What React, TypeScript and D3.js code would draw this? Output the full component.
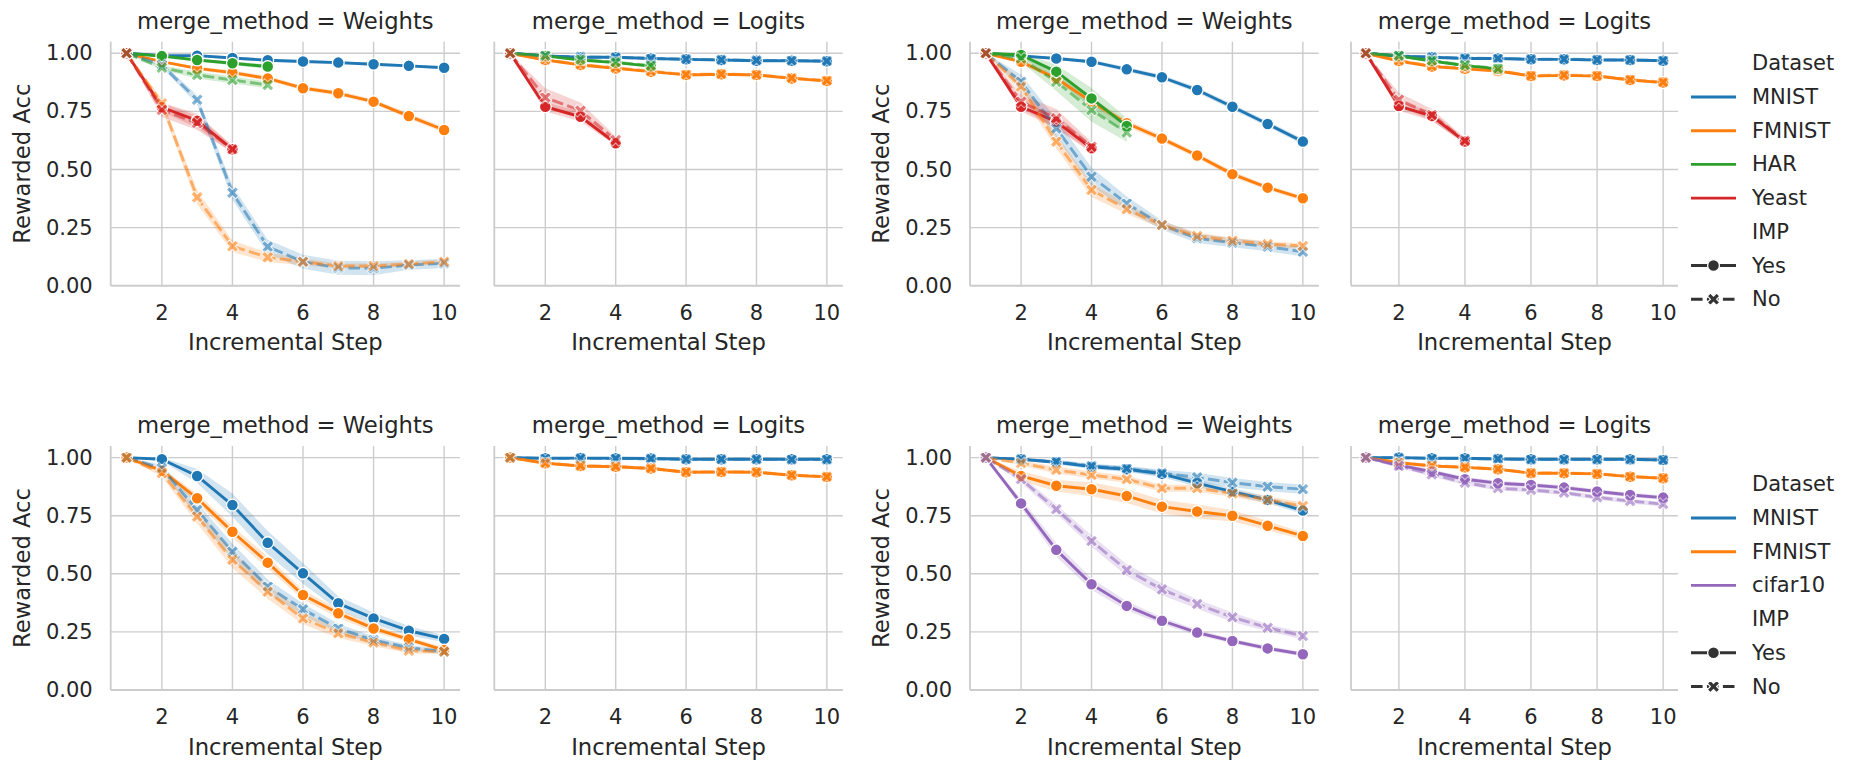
import React from 'react'
import * as d3 from 'd3'

const W = 1876
const H = 760
const FONT = 'DejaVu Sans, Verdana, sans-serif'
const TEXT = '#262626'
const GRID = '#cccccc'

const STEPS = [1, 2, 3, 4, 5, 6, 7, 8, 9, 10]
const X_TICKS = [2, 4, 6, 8, 10]
const Y_TICKS = [0, 0.25, 0.5, 0.75, 1.0]
const Y_TICK_LABELS = ['0.00', '0.25', '0.50', '0.75', '1.00']
const TOP_DATASETS = ['MNIST', 'FMNIST', 'HAR', 'Yeast']
const BOTTOM_DATASETS = ['MNIST', 'FMNIST', 'cifar10']
const IMP_LEVELS = ['Yes', 'No']

const COLORS = {
  MNIST: '#1f77b4',
  FMNIST: '#ff7f0e',
  HAR: '#2ca02c',
  Yeast: '#d62728',
  cifar10: '#9467bd',
}

// top row, left pair -- Weights
const A_W_MNIST_YES = [1.0, 0.99, 0.99, 0.98, 0.97, 0.965, 0.96, 0.953, 0.946, 0.938]
const A_W_MNIST_YES_CI = [0, 0.004, 0.005, 0.006, 0.006, 0.006, 0.006, 0.006, 0.006, 0.006]
const A_W_FMNIST_YES = [1.0, 0.964, 0.935, 0.917, 0.892, 0.85, 0.828, 0.792, 0.73, 0.67]
const A_W_FMNIST_YES_CI = [0, 0.005, 0.008, 0.01, 0.01, 0.01, 0.01, 0.01, 0.012, 0.012]
const A_W_HAR_YES = [1.0, 0.988, 0.971, 0.957, 0.943]
const A_W_HAR_YES_CI = [0, 0.005, 0.006, 0.008, 0.01]
const A_W_YEAST_YES = [1.0, 0.768, 0.71, 0.587]
const A_W_YEAST_YES_CI = [0, 0.02, 0.03, 0.015]
const A_W_MNIST_NO = [1.0, 0.95, 0.8, 0.4, 0.168, 0.103, 0.077, 0.075, 0.089, 0.096]
const A_W_MNIST_NO_CI = [0, 0.01, 0.02, 0.03, 0.03, 0.03, 0.03, 0.03, 0.02, 0.02]
const A_W_FMNIST_NO = [1.0, 0.785, 0.38, 0.17, 0.122, 0.103, 0.085, 0.085, 0.093, 0.103]
const A_W_FMNIST_NO_CI = [0, 0.02, 0.03, 0.025, 0.02, 0.015, 0.01, 0.01, 0.01, 0.01]
const A_W_HAR_NO = [1.0, 0.938, 0.907, 0.885, 0.864]
const A_W_HAR_NO_CI = [0, 0.01, 0.015, 0.015, 0.015]
const A_W_YEAST_NO = [1.0, 0.756, 0.7, 0.587]
const A_W_YEAST_NO_CI = [0, 0.03, 0.03, 0.015]

// top row, left pair -- Logits
const A_L_MNIST_YES = [1.0, 0.989, 0.983, 0.983, 0.978, 0.974, 0.971, 0.968, 0.968, 0.966]
const A_L_FMNIST_YES = [1.0, 0.971, 0.95, 0.935, 0.921, 0.907, 0.91, 0.907, 0.892, 0.881]
const A_L_HAR_YES = [1.0, 0.989, 0.971, 0.96, 0.945]
const A_L_YEAST_YES = [1.0, 0.77, 0.727, 0.613]
const A_L_YEAST_YES_CI = [0, 0.02, 0.02, 0.01]
const A_L_MNIST_NO = [1.0, 0.988, 0.985, 0.983, 0.978, 0.975, 0.972, 0.97, 0.969, 0.967]
const A_L_FMNIST_NO = [1.0, 0.973, 0.952, 0.938, 0.923, 0.909, 0.911, 0.908, 0.894, 0.883]
const A_L_HAR_NO = [1.0, 0.99, 0.973, 0.962, 0.947]
const A_L_YEAST_NO = [1.0, 0.81, 0.753, 0.627]
const A_L_YEAST_NO_CI = [0, 0.04, 0.035, 0.015]

// top row, right pair -- Weights
const B_W_MNIST_YES = [1.0, 0.989, 0.978, 0.964, 0.931, 0.897, 0.842, 0.77, 0.696, 0.62]
const B_W_MNIST_YES_CI = [0, 0.004, 0.006, 0.008, 0.01, 0.01, 0.012, 0.012, 0.012, 0.012]
const B_W_FMNIST_YES = [1.0, 0.964, 0.892, 0.792, 0.699, 0.633, 0.56, 0.48, 0.422, 0.376]
const B_W_FMNIST_YES_CI = [0, 0.008, 0.012, 0.015, 0.015, 0.012, 0.012, 0.012, 0.01, 0.01]
const B_W_HAR_YES = [1.0, 0.993, 0.921, 0.806, 0.687]
const B_W_HAR_YES_CI = [0, 0.01, 0.03, 0.045, 0.035]
const B_W_YEAST_YES = [1.0, 0.77, 0.706, 0.591]
const B_W_YEAST_YES_CI = [0, 0.02, 0.03, 0.02]
const B_W_MNIST_NO = [1.0, 0.878, 0.677, 0.469, 0.354, 0.261, 0.204, 0.185, 0.168, 0.146]
const B_W_MNIST_NO_CI = [0, 0.03, 0.04, 0.04, 0.03, 0.02, 0.02, 0.02, 0.02, 0.02]
const B_W_FMNIST_NO = [1.0, 0.857, 0.62, 0.412, 0.329, 0.261, 0.214, 0.194, 0.179, 0.171]
const B_W_FMNIST_NO_CI = [0, 0.03, 0.03, 0.03, 0.02, 0.015, 0.015, 0.012, 0.012, 0.012]
const B_W_HAR_NO = [1.0, 0.978, 0.878, 0.756, 0.659]
const B_W_HAR_NO_CI = [0, 0.015, 0.04, 0.05, 0.04]
const B_W_YEAST_NO = [1.0, 0.792, 0.72, 0.598]
const B_W_YEAST_NO_CI = [0, 0.03, 0.04, 0.02]

// top row, right pair -- Logits
const B_L_MNIST_YES = [1.0, 0.988, 0.983, 0.978, 0.978, 0.974, 0.974, 0.971, 0.971, 0.968]
const B_L_FMNIST_YES = [1.0, 0.967, 0.943, 0.933, 0.924, 0.902, 0.905, 0.902, 0.885, 0.874]
const B_L_HAR_YES = [1.0, 0.988, 0.967, 0.947, 0.933]
const B_L_YEAST_YES = [1.0, 0.773, 0.73, 0.62]
const B_L_YEAST_YES_CI = [0, 0.02, 0.02, 0.01]
const B_L_MNIST_NO = [1.0, 0.989, 0.984, 0.979, 0.978, 0.975, 0.975, 0.972, 0.971, 0.969]
const B_L_FMNIST_NO = [1.0, 0.969, 0.945, 0.935, 0.926, 0.904, 0.907, 0.904, 0.887, 0.876]
const B_L_HAR_NO = [1.0, 0.99, 0.969, 0.949, 0.935]
const B_L_YEAST_NO = [1.0, 0.8, 0.735, 0.624]
const B_L_YEAST_NO_CI = [0, 0.03, 0.025, 0.012]

// bottom row, left pair -- Weights
const C_W_MNIST_YES = [1.0, 0.993, 0.921, 0.796, 0.634, 0.502, 0.373, 0.308, 0.255, 0.22]
const C_W_MNIST_YES_CI = [0, 0.008, 0.03, 0.05, 0.05, 0.045, 0.03, 0.025, 0.02, 0.015]
const C_W_FMNIST_YES = [1.0, 0.944, 0.825, 0.681, 0.548, 0.409, 0.33, 0.265, 0.218, 0.172]
const C_W_FMNIST_YES_CI = [0, 0.01, 0.02, 0.025, 0.025, 0.02, 0.02, 0.015, 0.012, 0.01]
const C_W_MNIST_NO = [1.0, 0.954, 0.775, 0.595, 0.445, 0.347, 0.265, 0.215, 0.182, 0.165]
const C_W_MNIST_NO_CI = [0, 0.015, 0.03, 0.035, 0.03, 0.025, 0.02, 0.015, 0.012, 0.01]
const C_W_FMNIST_NO = [1.0, 0.933, 0.746, 0.56, 0.423, 0.308, 0.244, 0.204, 0.169, 0.165]
const C_W_FMNIST_NO_CI = [0, 0.015, 0.03, 0.035, 0.03, 0.025, 0.02, 0.015, 0.012, 0.01]

// bottom row, left pair -- Logits
const C_L_MNIST_YES = [1.0, 0.997, 0.998, 0.997, 0.996, 0.993, 0.993, 0.993, 0.993, 0.993]
const C_L_FMNIST_YES = [1.0, 0.976, 0.964, 0.961, 0.953, 0.937, 0.938, 0.937, 0.924, 0.917]
const C_L_MNIST_NO = [1.0, 0.996, 0.997, 0.996, 0.995, 0.993, 0.993, 0.993, 0.992, 0.992]
const C_L_FMNIST_NO = [1.0, 0.977, 0.965, 0.962, 0.954, 0.938, 0.939, 0.938, 0.925, 0.918]

// bottom row, right pair -- Weights
const D_W_MNIST_YES = [1.0, 0.993, 0.98, 0.961, 0.95, 0.93, 0.89, 0.854, 0.818, 0.772]
const D_W_MNIST_YES_CI = [0, 0.004, 0.008, 0.01, 0.012, 0.015, 0.015, 0.015, 0.015, 0.015]
const D_W_FMNIST_YES = [1.0, 0.921, 0.879, 0.864, 0.835, 0.789, 0.768, 0.75, 0.707, 0.663]
const D_W_FMNIST_YES_CI = [0, 0.02, 0.025, 0.03, 0.03, 0.03, 0.03, 0.025, 0.02, 0.015]
const D_W_CIFAR_YES = [1.0, 0.803, 0.603, 0.455, 0.362, 0.298, 0.247, 0.211, 0.179, 0.154]
const D_W_CIFAR_YES_CI = [0, 0.02, 0.03, 0.025, 0.02, 0.015, 0.012, 0.01, 0.01, 0.01]
const D_W_MNIST_NO = [1.0, 0.993, 0.983, 0.964, 0.953, 0.933, 0.915, 0.892, 0.875, 0.864]
const D_W_MNIST_NO_CI = [0, 0.005, 0.008, 0.01, 0.012, 0.015, 0.02, 0.02, 0.02, 0.02]
const D_W_FMNIST_NO = [1.0, 0.976, 0.947, 0.925, 0.907, 0.868, 0.868, 0.846, 0.818, 0.792]
const D_W_FMNIST_NO_CI = [0, 0.01, 0.015, 0.015, 0.015, 0.015, 0.015, 0.015, 0.015, 0.015]
const D_W_CIFAR_NO = [1.0, 0.907, 0.778, 0.641, 0.516, 0.433, 0.37, 0.313, 0.268, 0.232]
const D_W_CIFAR_NO_CI = [0, 0.015, 0.02, 0.025, 0.025, 0.025, 0.02, 0.02, 0.015, 0.015]

// bottom row, right pair -- Logits
const D_L_MNIST_YES = [1.0, 1.0, 0.997, 0.997, 0.994, 0.993, 0.993, 0.993, 0.993, 0.99]
const D_L_FMNIST_YES = [1.0, 0.978, 0.964, 0.958, 0.95, 0.933, 0.933, 0.93, 0.918, 0.911]
const D_L_CIFAR_YES = [1.0, 0.968, 0.94, 0.907, 0.89, 0.882, 0.871, 0.854, 0.839, 0.828]
const D_L_CIFAR_YES_CI = [0, 0.008, 0.01, 0.01, 0.01, 0.01, 0.01, 0.01, 0.01, 0.01]
const D_L_MNIST_NO = [1.0, 0.999, 0.996, 0.996, 0.994, 0.992, 0.992, 0.992, 0.992, 0.99]
const D_L_FMNIST_NO = [1.0, 0.979, 0.965, 0.959, 0.951, 0.934, 0.934, 0.931, 0.919, 0.912]
const D_L_CIFAR_NO = [1.0, 0.964, 0.928, 0.892, 0.868, 0.861, 0.849, 0.829, 0.813, 0.8]
const D_L_CIFAR_NO_CI = [0, 0.008, 0.01, 0.01, 0.01, 0.01, 0.01, 0.01, 0.01, 0.01]

type Series = { ds: string; imp: string; v: number[]; ci?: number[] }
type PanelSpec = {
  left: number
  right: number
  top: number
  bottom: number
  title: string
  yLabels: boolean
  series: Series[]
}

const s = (ds: string, imp: string, v: number[], ci?: number[]): Series => ({ ds, imp, v, ci })

const ROW1 = { top: 41.7, bottom: 285.7 }
const ROW2 = { top: 446, bottom: 690 }
const COLS = [
  { left: 110.7, right: 460 },
  { left: 494.3, right: 842.7 },
  { left: 970, right: 1318.7 },
  { left: 1351, right: 1678 },
]

const PANELS: PanelSpec[] = [
  {
    ...COLS[0], ...ROW1, title: 'Weights', yLabels: true,
    series: [
      s('MNIST', 'Yes', A_W_MNIST_YES, A_W_MNIST_YES_CI),
      s('FMNIST', 'Yes', A_W_FMNIST_YES, A_W_FMNIST_YES_CI),
      s('HAR', 'Yes', A_W_HAR_YES, A_W_HAR_YES_CI),
      s('Yeast', 'Yes', A_W_YEAST_YES, A_W_YEAST_YES_CI),
      s('MNIST', 'No', A_W_MNIST_NO, A_W_MNIST_NO_CI),
      s('FMNIST', 'No', A_W_FMNIST_NO, A_W_FMNIST_NO_CI),
      s('HAR', 'No', A_W_HAR_NO, A_W_HAR_NO_CI),
      s('Yeast', 'No', A_W_YEAST_NO, A_W_YEAST_NO_CI),
    ],
  },
  {
    ...COLS[1], ...ROW1, title: 'Logits', yLabels: false,
    series: [
      s('MNIST', 'Yes', A_L_MNIST_YES),
      s('FMNIST', 'Yes', A_L_FMNIST_YES),
      s('HAR', 'Yes', A_L_HAR_YES),
      s('Yeast', 'Yes', A_L_YEAST_YES, A_L_YEAST_YES_CI),
      s('MNIST', 'No', A_L_MNIST_NO),
      s('FMNIST', 'No', A_L_FMNIST_NO),
      s('HAR', 'No', A_L_HAR_NO),
      s('Yeast', 'No', A_L_YEAST_NO, A_L_YEAST_NO_CI),
    ],
  },
  {
    ...COLS[2], ...ROW1, title: 'Weights', yLabels: true,
    series: [
      s('MNIST', 'Yes', B_W_MNIST_YES, B_W_MNIST_YES_CI),
      s('FMNIST', 'Yes', B_W_FMNIST_YES, B_W_FMNIST_YES_CI),
      s('HAR', 'Yes', B_W_HAR_YES, B_W_HAR_YES_CI),
      s('Yeast', 'Yes', B_W_YEAST_YES, B_W_YEAST_YES_CI),
      s('MNIST', 'No', B_W_MNIST_NO, B_W_MNIST_NO_CI),
      s('FMNIST', 'No', B_W_FMNIST_NO, B_W_FMNIST_NO_CI),
      s('HAR', 'No', B_W_HAR_NO, B_W_HAR_NO_CI),
      s('Yeast', 'No', B_W_YEAST_NO, B_W_YEAST_NO_CI),
    ],
  },
  {
    ...COLS[3], ...ROW1, title: 'Logits', yLabels: false,
    series: [
      s('MNIST', 'Yes', B_L_MNIST_YES),
      s('FMNIST', 'Yes', B_L_FMNIST_YES),
      s('HAR', 'Yes', B_L_HAR_YES),
      s('Yeast', 'Yes', B_L_YEAST_YES, B_L_YEAST_YES_CI),
      s('MNIST', 'No', B_L_MNIST_NO),
      s('FMNIST', 'No', B_L_FMNIST_NO),
      s('HAR', 'No', B_L_HAR_NO),
      s('Yeast', 'No', B_L_YEAST_NO, B_L_YEAST_NO_CI),
    ],
  },
  {
    ...COLS[0], ...ROW2, title: 'Weights', yLabels: true,
    series: [
      s('MNIST', 'Yes', C_W_MNIST_YES, C_W_MNIST_YES_CI),
      s('FMNIST', 'Yes', C_W_FMNIST_YES, C_W_FMNIST_YES_CI),
      s('MNIST', 'No', C_W_MNIST_NO, C_W_MNIST_NO_CI),
      s('FMNIST', 'No', C_W_FMNIST_NO, C_W_FMNIST_NO_CI),
    ],
  },
  {
    ...COLS[1], ...ROW2, title: 'Logits', yLabels: false,
    series: [
      s('MNIST', 'Yes', C_L_MNIST_YES),
      s('FMNIST', 'Yes', C_L_FMNIST_YES),
      s('MNIST', 'No', C_L_MNIST_NO),
      s('FMNIST', 'No', C_L_FMNIST_NO),
    ],
  },
  {
    ...COLS[2], ...ROW2, title: 'Weights', yLabels: true,
    series: [
      s('MNIST', 'Yes', D_W_MNIST_YES, D_W_MNIST_YES_CI),
      s('FMNIST', 'Yes', D_W_FMNIST_YES, D_W_FMNIST_YES_CI),
      s('cifar10', 'Yes', D_W_CIFAR_YES, D_W_CIFAR_YES_CI),
      s('MNIST', 'No', D_W_MNIST_NO, D_W_MNIST_NO_CI),
      s('FMNIST', 'No', D_W_FMNIST_NO, D_W_FMNIST_NO_CI),
      s('cifar10', 'No', D_W_CIFAR_NO, D_W_CIFAR_NO_CI),
    ],
  },
  {
    ...COLS[3], ...ROW2, title: 'Logits', yLabels: false,
    series: [
      s('MNIST', 'Yes', D_L_MNIST_YES),
      s('FMNIST', 'Yes', D_L_FMNIST_YES),
      s('cifar10', 'Yes', D_L_CIFAR_YES, D_L_CIFAR_YES_CI),
      s('MNIST', 'No', D_L_MNIST_NO),
      s('FMNIST', 'No', D_L_FMNIST_NO),
      s('cifar10', 'No', D_L_CIFAR_NO, D_L_CIFAR_NO_CI),
    ],
  },
]

const LW = 2.9
const DASH = `${4 * LW},${1.5 * LW}`
const NO_ALPHA = 0.55
const xPath = d3.symbol(d3.symbolCross, 95)()

const Marker = ({ imp, cx, cy, color }) =>
  imp === 'Yes' ? (
    <circle cx={cx} cy={cy} r={5.9} fill={color} stroke="white" strokeWidth={1.3} />
  ) : (
    <path
      d={xPath}
      transform={`translate(${cx},${cy}) rotate(45)`}
      fill={color}
      stroke="white"
      strokeWidth={1.1}
    />
  )

const Panel = ({ p }: { p: PanelSpec }) => {
  const x = d3.scaleLinear().domain([0.55, 10.45]).range([p.left, p.right])
  const y = d3.scaleLinear().domain([0, 1.05]).range([p.bottom, p.top])
  const line = d3
    .line<number>()
    .x((_, i) => x(STEPS[i]))
    .y(d => y(d))
  const area = (v: number[], ci: number[]) =>
    d3
      .area<number>()
      .x((_, i) => x(STEPS[i]))
      .y0((d, i) => y(d - ci[i]))
      .y1((d, i) => y(d + ci[i]))(v)

  return (
    <g>
      {Y_TICKS.map(t => (
        <line key={'gy' + t} x1={p.left} x2={p.right} y1={y(t)} y2={y(t)} stroke={GRID} strokeWidth={1.4} />
      ))}
      {X_TICKS.map(t => (
        <line key={'gx' + t} x1={x(t)} x2={x(t)} y1={p.top} y2={p.bottom} stroke={GRID} strokeWidth={1.4} />
      ))}
      <line x1={p.left} x2={p.left} y1={p.top} y2={p.bottom} stroke={GRID} strokeWidth={1.8} />
      <line x1={p.left} x2={p.right} y1={p.bottom} y2={p.bottom} stroke={GRID} strokeWidth={1.8} />

      {p.series.map((sr, k) =>
        sr.ci ? (
          <path key={'b' + k} d={area(sr.v, sr.ci) || ''} fill={COLORS[sr.ds]} fillOpacity={0.2} stroke="none" />
        ) : null
      )}
      {p.series.map((sr, k) => (
        <g key={'s' + k} opacity={sr.imp === 'No' ? NO_ALPHA : 1}>
          <path
            d={line(sr.v) || ''}
            fill="none"
            stroke={COLORS[sr.ds]}
            strokeWidth={LW}
            strokeDasharray={sr.imp === 'No' ? DASH : undefined}
            strokeLinejoin="round"
          />
          {sr.v.map((d, i) => (
            <Marker key={i} imp={sr.imp} cx={x(STEPS[i])} cy={y(d)} color={COLORS[sr.ds]} />
          ))}
        </g>
      ))}

      {X_TICKS.map(t => (
        <text key={'tx' + t} x={x(t)} y={p.bottom + 27} textAnchor="middle" dominantBaseline="central" fontSize={21} fill={TEXT}>
          {t}
        </text>
      ))}
      {p.yLabels &&
        Y_TICKS.map((t, i) => (
          <text key={'ty' + t} x={p.left - 18} y={y(t)} textAnchor="end" dominantBaseline="central" fontSize={21} fill={TEXT}>
            {Y_TICK_LABELS[i]}
          </text>
        ))}
      {p.yLabels && (
        <text
          transform={`translate(${p.left - 89},${(p.top + p.bottom) / 2}) rotate(-90)`}
          textAnchor="middle"
          dominantBaseline="central"
          fontSize={22.7}
          fill={TEXT}
        >
          Rewarded Acc
        </text>
      )}
      <text x={(p.left + p.right) / 2} y={p.top - 21} textAnchor="middle" dominantBaseline="central" fontSize={22.7} fill={TEXT}>
        {`merge_method = ${p.title}`}
      </text>
      <text x={(p.left + p.right) / 2} y={p.bottom + 56.5} textAnchor="middle" dominantBaseline="central" fontSize={22.7} fill={TEXT}>
        Incremental Step
      </text>
    </g>
  )
}

const Legend = ({ top, datasets }: { top: number; datasets: string[] }) => {
  const step = 33.7
  const hx1 = 1691
  const hx2 = 1736
  const tx = 1752
  const rows: { label: string; kind: string }[] = [
    { label: 'Dataset', kind: 'title' },
    ...datasets.map(d => ({ label: d, kind: 'hue' })),
    { label: 'IMP', kind: 'title' },
    ...IMP_LEVELS.map(l => ({ label: l, kind: 'style' })),
  ]
  return (
    <g>
      {rows.map((r, i) => {
        const yy = top + i * step
        return (
          <g key={r.label}>
            {r.kind === 'hue' && (
              <line x1={hx1} x2={hx2} y1={yy} y2={yy} stroke={COLORS[r.label]} strokeWidth={LW} />
            )}
            {r.kind === 'style' && (
              <g>
                <line
                  x1={hx1}
                  x2={hx2}
                  y1={yy}
                  y2={yy}
                  stroke="#333333"
                  strokeWidth={LW}
                  strokeDasharray={r.label === 'No' ? DASH : undefined}
                />
                <Marker imp={r.label} cx={(hx1 + hx2) / 2} cy={yy} color="#333333" />
              </g>
            )}
            <text x={tx} y={yy} dominantBaseline="central" fontSize={21} fill={TEXT}>
              {r.label}
            </text>
          </g>
        )
      })}
    </g>
  )
}

export default function App() {
  return (
    <svg
      width={W}
      height={H}
      style={{ position: 'absolute', left: 0, top: 0, background: 'white' }}
      fontFamily={FONT}
    >
      <rect width={W} height={H} fill="white" />
      {PANELS.map((p, i) => (
        <Panel key={i} p={p} />
      ))}
      <Legend top={63.3} datasets={TOP_DATASETS} />
      <Legend top={484.3} datasets={BOTTOM_DATASETS} />
    </svg>
  )
}
